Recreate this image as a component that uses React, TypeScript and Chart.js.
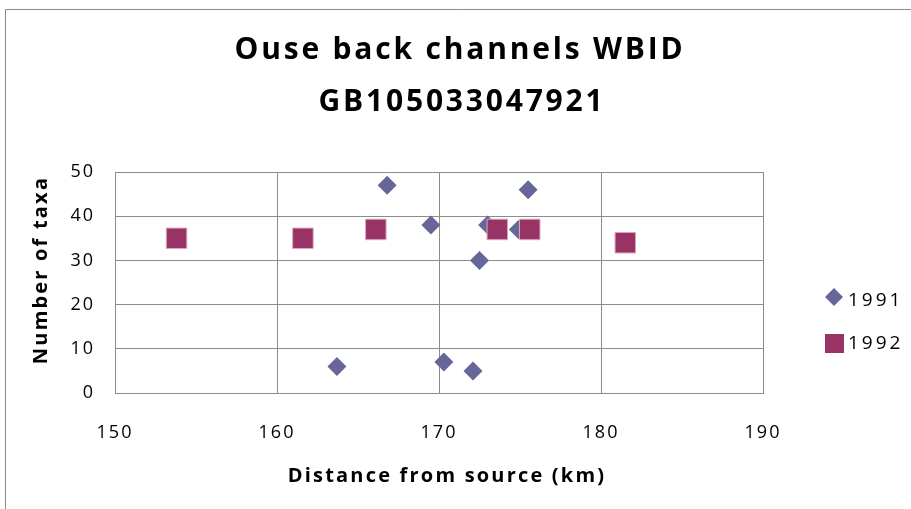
import React, { useEffect, useRef } from "react";
import { Chart, registerables } from "chart.js";

Chart.register(...registerables);

// Survey results: distance downstream (km) and number of taxa recorded
const distances1991 = [163.7, 166.8, 169.5, 170.3, 172.1, 172.5, 173.0, 174.9, 175.5];
const taxa1991 = [6, 47, 38, 7, 5, 30, 38, 37, 46];
const distances1992 = [153.8, 161.6, 166.1, 173.6, 175.6, 181.5];
const taxa1992 = [35, 35, 37, 37, 37, 34];

const seriesNames = ["1991", "1992"];
const titleLines = ["Ouse back channels WBID", "GB105033047921"];
const xAxisTitle = "Distance from source (km)";
const yAxisTitle = "Number of taxa";

const COLOR_1991 = "#666699";
const COLOR_1992 = "#993366";
const FONT = "'Open Sans', sans-serif";

const toPoints = (xs: number[], ys: number[]) => xs.map((x, i) => ({ x, y: ys[i] }));

const decorations = {
  id: "decorations",
  beforeDraw(chart: any) {
    const ctx = chart.ctx;
    ctx.fillStyle = "#ffffff";
    ctx.fillRect(0, 0, chart.width, chart.height);
    ctx.letterSpacing = "2px";
  },
  afterDraw(chart: any) {
    const ctx = chart.ctx;
    const area = chart.chartArea;
    ctx.save();

    // outer frame
    ctx.strokeStyle = "#8a8a8a";
    ctx.lineWidth = 1;
    ctx.beginPath();
    ctx.moveTo(5.5, chart.height + 1);
    ctx.lineTo(5.5, 9.5);
    ctx.lineTo(chart.width + 1, 9.5);
    ctx.stroke();

    ctx.fillStyle = "#000";
    ctx.textAlign = "center";
    ctx.textBaseline = "middle";

    // title
    ctx.font = `bold 30px ${FONT}`;
    ctx.letterSpacing = "2.8px";
    ctx.fillText(titleLines[0], 460, 50);
    ctx.fillText(titleLines[1], 462, 102);

    // axis titles
    ctx.font = `bold 20px ${FONT}`;
    ctx.letterSpacing = "2.2px";
    ctx.fillText(xAxisTitle, 447, 476);
    ctx.save();
    ctx.translate(41, 270);
    ctx.rotate(-Math.PI / 2);
    ctx.fillText(yAxisTitle, 0, 0);
    ctx.restore();

    // legend
    const lx = 834;
    const rows = [297, 343];
    ctx.fillStyle = COLOR_1991;
    ctx.beginPath();
    ctx.moveTo(lx, rows[0] - 9);
    ctx.lineTo(lx + 9, rows[0]);
    ctx.lineTo(lx, rows[0] + 9);
    ctx.lineTo(lx - 9, rows[0]);
    ctx.closePath();
    ctx.fill();
    ctx.fillStyle = COLOR_1992;
    ctx.fillRect(lx - 9, rows[1] - 9, 19, 19);

    ctx.fillStyle = "#000";
    ctx.textAlign = "left";
    ctx.font = `19px ${FONT}`;
    ctx.letterSpacing = "3px";
    ctx.fillText(seriesNames[0], 848, rows[0] + 4);
    ctx.fillText(seriesNames[1], 848, rows[1] + 1);

    ctx.restore();
  },
};

export default function App() {
  const canvasRef = useRef<HTMLCanvasElement | null>(null);

  useEffect(() => {
    const canvas = canvasRef.current;
    if (!canvas) return;
    const gridColor = "#8c8c8c";
    const chart = new Chart(canvas, {
      type: "scatter",
      data: {
        datasets: [
          {
            label: seriesNames[0],
            data: toPoints(distances1991, taxa1991),
            pointStyle: "rectRot",
            pointRadius: 9.5,
            pointHoverRadius: 9.5,
            backgroundColor: COLOR_1991,
            borderColor: COLOR_1991,
            borderWidth: 0,
            order: 1,
          },
          {
            label: seriesNames[1],
            data: toPoints(distances1992, taxa1992),
            pointStyle: "rect",
            pointRadius: 14.5,
            pointHoverRadius: 14.5,
            backgroundColor: COLOR_1992,
            borderColor: "#d9a6bf",
            borderWidth: 1,
            order: 0,
          },
        ],
      },
      options: {
        responsive: false,
        animation: false,
        events: [],
        layout: { padding: { top: 172, right: 148, bottom: 0, left: 0 } },
        plugins: {
          legend: { display: false },
          title: { display: false },
          tooltip: { enabled: false },
        },
        scales: {
          x: {
            type: "linear",
            min: 150,
            max: 190,
            ticks: {
              stepSize: 10,
              padding: 29,
              color: "#000",
              font: { family: FONT, size: 18 },
            },
            grid: { color: gridColor, lineWidth: 1, drawTicks: false },
            border: { color: gridColor },
            afterFit: (s: any) => {
              s.height = 116;
            },
          },
          y: {
            type: "linear",
            min: 0,
            max: 50,
            ticks: {
              stepSize: 10,
              padding: 20,
              color: "#000",
              font: { family: FONT, size: 18 },
            },
            grid: { color: gridColor, lineWidth: 1, drawTicks: false },
            border: { color: gridColor },
            afterFit: (s: any) => {
              s.width = 115;
            },
          },
        },
      },
      plugins: [decorations],
    });
    return () => chart.destroy();
  }, []);

  return (
    <div style={{ position: "fixed", left: 0, top: 0, width: 911, height: 509, background: "#fff" }}>
      <canvas ref={canvasRef} width={911} height={509} style={{ display: "block" }} />
    </div>
  );
}
